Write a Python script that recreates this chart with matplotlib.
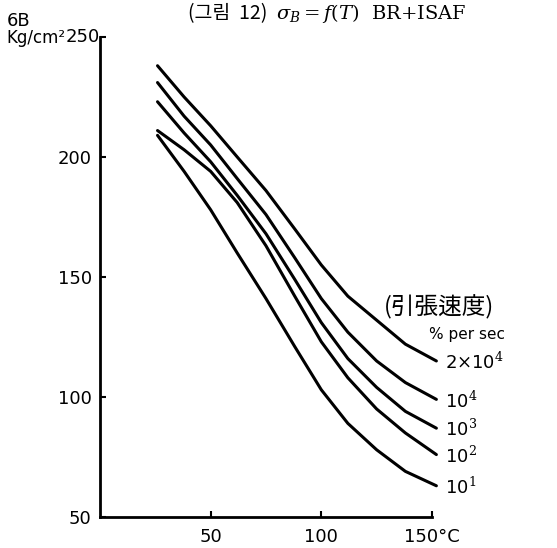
import matplotlib
matplotlib.use("Agg")
import matplotlib.pyplot as plt

plt.rcParams["font.family"] = ["DejaVu Sans", "Noto Sans CJK KR"]
plt.rcParams["mathtext.fontset"] = "dejavuserif"

# temperature (deg C) at which each curve was read
temp = [26, 38, 50, 62, 75, 88, 100, 112, 125, 138, 152]

# tensile strength sigma_B (kg/cm2) for each strain rate (% per sec)
sb_2e4 = [238, 225, 213, 200, 186, 170, 155, 142, 132, 122, 115]
sb_1e4 = [231, 217, 205, 191, 176, 158, 141, 127, 115, 106, 99]
sb_1e3 = [223, 210, 198, 184, 168, 149, 131, 116, 104, 94, 87]
sb_1e2 = [211, 203, 194, 181, 163, 142, 123, 108, 95, 85, 76]
sb_1e1 = [209, 194, 178, 160, 141, 121, 103, 89, 78, 69, 63]

series = [sb_2e4, sb_1e4, sb_1e3, sb_1e2, sb_1e1]
rate_labels = [r"2$\times$10$^4$", r"10$^4$", r"10$^3$", r"10$^2$", r"10$^1$"]

xticks = [50, 100, 150]
xticklabels = ["50", "100", "150°C"]
yticks = [50, 100, 150, 200, 250]

fig = plt.figure(figsize=(5.57, 5.48), dpi=100)
ax = fig.add_axes([0.1795, 0.0566, 0.596, 0.876])

for vals, lab in zip(series, rate_labels):
    ax.plot(temp, vals, color="black", lw=2.2, clip_on=False,
            solid_capstyle="round", solid_joinstyle="round")
    ax.annotate(lab, xy=(temp[-1], vals[-1]), xytext=(6, -1),
                textcoords="offset points", fontsize=13, va="center",
                ha="left", annotation_clip=False)

ax.set_xlim(0, 150)
ax.set_ylim(50, 250)
ax.spines["top"].set_visible(False)
ax.spines["right"].set_visible(False)
ax.spines["left"].set_linewidth(2)
ax.spines["bottom"].set_linewidth(2)

ax.set_xticks(xticks)
ax.set_xticklabels(xticklabels, fontsize=13)
ax.set_yticks(yticks)
ax.set_yticklabels([str(v) for v in yticks], fontsize=13)
ax.tick_params(axis="x", direction="in", length=4, width=1.5, pad=8)
ax.tick_params(axis="y", direction="in", length=4, width=1.5, pad=6)
# 250 sits up beside the unit label in the original
ax.get_yticklabels()[-1].set_visible(False)

fig.text(0.012, 0.945, "6B", fontsize=13, va="bottom")
fig.text(0.012, 0.915, "Kg/cm²", fontsize=12, va="bottom")
fig.text(0.117, 0.933, "250", fontsize=13, va="center")

# title: Korean part and formula part drawn separately
fig.text(0.48, 0.975, "(그림  12)", fontsize=14, ha="right", va="center",
         family=["Noto Sans CJK KR", "DejaVu Serif"])
fig.text(0.495, 0.975, r"$\sigma_B = f(T)$  BR+ISAF", fontsize=14,
         ha="left", va="center", family="DejaVu Serif")

fig.text(0.69, 0.44, "(引張速度)", fontsize=17, va="center",
         family=["Noto Sans CJK KR", "DejaVu Sans"])
fig.text(0.77, 0.39, "% per sec", fontsize=11, va="center")

fig.savefig("out.png", dpi=100)
